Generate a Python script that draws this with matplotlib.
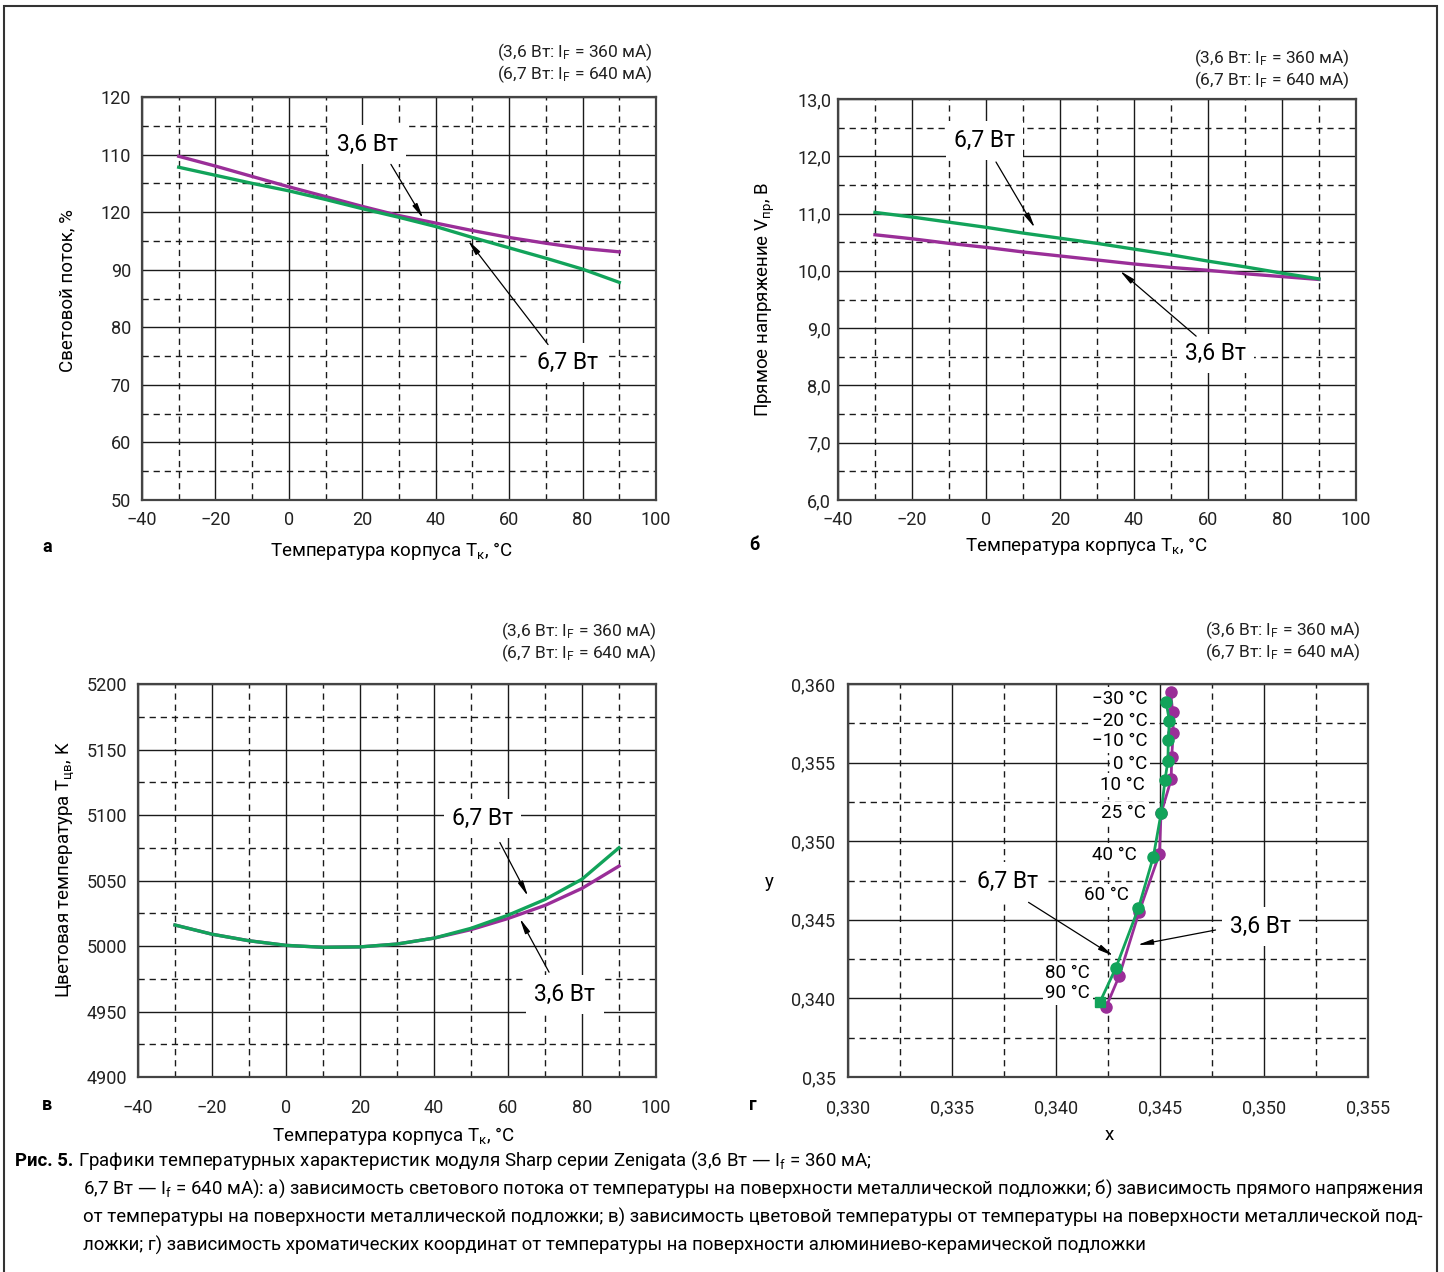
import matplotlib
matplotlib.use('Agg')
import matplotlib.pyplot as plt
from matplotlib.patches import Rectangle

plt.rcParams['font.family'] = ['Roboto', 'DejaVu Sans']
plt.rcParams['axes.unicode_minus'] = True

W, H = 1444, 1272
PURPLE = '#9a2e98'
GREEN = '#12a35a'

# ---- data ----
temp = [-30, -20, -10, 0, 10, 20, 30, 40, 50, 60, 70, 80, 90]

# a) luminous flux, %
flux_36 = [109.7, 108.0, 106.2, 104.4, 102.7, 101.0, 99.4, 98.1, 96.8, 95.6, 94.6, 93.7, 93.1]
flux_67 = [107.8, 106.4, 105.0, 103.7, 102.2, 100.6, 99.1, 97.5, 95.6, 93.8, 92.0, 90.1, 87.8]

# b) forward voltage, V
volt_36 = [10.63, 10.56, 10.48, 10.41, 10.33, 10.26, 10.19, 10.12, 10.06, 10.01, 9.95, 9.90, 9.85]
volt_67 = [11.02, 10.94, 10.85, 10.76, 10.66, 10.57, 10.48, 10.38, 10.28, 10.17, 10.07, 9.96, 9.86]

# c) colour temperature, K
cct_36 = [5016, 5009, 5004, 5000.5, 4999, 4999.3, 5001.5, 5006, 5012.5, 5021, 5031, 5044, 5061]
cct_67 = [5016, 5009, 5004, 5000.5, 4999, 4999.3, 5001.5, 5006, 5013.5, 5023.5, 5035.5, 5051, 5075]

# d) chromaticity coordinates
chroma_temps = ['−30 °C', '−20 °C', '−10 °C', '0 °C', '10 °C', '25 °C', '40 °C', '60 °C', '80 °C', '90 °C']
cx_36 = [0.34551, 0.34561, 0.34564, 0.34556, 0.34554, 0.34505, 0.34497, 0.34400, 0.34304, 0.34240]
cy_36 = [0.35951, 0.35820, 0.35690, 0.35534, 0.35394, 0.35177, 0.34919, 0.34552, 0.34143, 0.33943]
cx_67 = [0.34529, 0.34545, 0.34540, 0.34538, 0.34524, 0.34505, 0.34468, 0.34396, 0.34288, 0.34212]
cy_67 = [0.35887, 0.35767, 0.35644, 0.35512, 0.35389, 0.35177, 0.34901, 0.34573, 0.34195, 0.33979]

temp_ticks = [-40, -20, 0, 20, 40, 60, 80, 100]
temp_labels = ['−40', '−20', '0', '20', '40', '60', '80', '100']
flux_ticks = [50, 60, 70, 80, 90, 100, 110, 120]
flux_labels = ['50', '60', '70', '80', '90', '120', '110', '120']
volt_ticks = [6, 7, 8, 9, 10, 11, 12, 13]
volt_labels = ['6,0', '7,0', '8,0', '9,0', '10,0', '11,0', '12,0', '13,0']
cct_ticks = [4900, 4950, 5000, 5050, 5100, 5150, 5200]
cct_labels = ['4900', '4950', '5000', '5050', '5100', '5150', '5200']
cx_ticks = [0.330, 0.335, 0.340, 0.345, 0.350, 0.355]
cx_labels = ['0,330', '0,335', '0,340', '0,345', '0,350', '0,355']
cy_ticks = [0.335, 0.340, 0.345, 0.350, 0.355, 0.360]
cy_labels = ['0,35', '0,340', '0,345', '0,350', '0,355', '0,360']

fig = plt.figure(figsize=(W / 100, H / 100), dpi=100)

# frame round the whole figure
fig.add_artist(Rectangle((4 / W, 1 - 1290 / H), 1433 / W, 1284 / H, fill=False,
                         ec='#333333', lw=1.5, transform=fig.transFigure))


def make_axes(l, t, r, b):
    return fig.add_axes([l / W, 1 - b / H, (r - l) / W, (b - t) / H])


def setup(ax, xt, xl, yt, yl, xpad, ypad):
    ax.set_xlim(xt[0], xt[-1])
    ax.set_ylim(yt[0], yt[-1])
    ax.set_xticks(xt)
    ax.set_xticklabels(xl)
    ax.set_yticks(yt)
    ax.set_yticklabels(yl)
    ax.set_xticks([(a + b) / 2 for a, b in zip(xt[:-1], xt[1:])], minor=True)
    ax.set_yticks([(a + b) / 2 for a, b in zip(yt[:-1], yt[1:])], minor=True)
    ax.tick_params(which='both', length=0, labelsize=13, colors='#222222')
    ax.tick_params(axis='x', pad=xpad)
    ax.tick_params(axis='y', pad=ypad)
    ax.grid(which='major', color='#1a1a1a', lw=1.0, ls='-')
    ax.grid(which='minor', color='#1a1a1a', lw=1.0, ls=(0, (4.5, 3.5)))
    ax.set_axisbelow(True)
    for s in ax.spines.values():
        s.set_color('#444444')
        s.set_linewidth(1.6)


def tag(ax, x, y, s, size=16.5):
    ax.text(x, y, s, fontsize=size, ha='center', va='center', zorder=4,
            bbox=dict(boxstyle='square,pad=0.35', fc='white', ec='none'))


def arrow(ax, tail, tip):
    ax.annotate('', xy=tip, xytext=tail, zorder=5,
                arrowprops=dict(arrowstyle='-|>,head_length=0.9,head_width=0.16',
                                color='black', lw=0.9, shrinkA=0, shrinkB=0))


def note(x, y):
    fig.text(x / W, 1 - y / H, '(3,6 Вт: I$\\mathregular{_F}$ = 360 мА)\n(6,7 Вт: I$\\mathregular{_F}$ = 640 мА)',
             fontsize=12.5, ha='right', va='center', linespacing=1.05, color='#222222')


def letter(x, y, s):
    fig.text(x / W, 1 - y / H, s, fontsize=13, fontweight='bold', ha='center', va='center')


temp_label = 'Температура корпуса T$\\mathregular{_к}$, °C'

# ---- а ----
ax = make_axes(142, 97, 656, 500)
setup(ax, temp_ticks, temp_labels, flux_ticks, flux_labels, 8, 8)
ax.plot(temp, flux_36, color=PURPLE, lw=2.4, zorder=3)
ax.plot(temp, flux_67, color=GREEN, lw=2.4, zorder=3)
tag(ax, 21.3, 111.7, '3,6 Вт')
arrow(ax, (27.8, 108.3), (36.6, 98.9))
tag(ax, 75.8, 73.9, '6,7 Вт')
arrow(ax, (70.6, 77.0), (48.8, 95.1))
ax.set_ylabel('Световой поток, %', fontsize=13.5)
ax.yaxis.set_label_coords(-0.128, 0.52)
ax.set_xlabel(temp_label, fontsize=13.5)
ax.xaxis.set_label_coords(0.486, -0.099)
note(653, 63)
letter(47, 547, 'а')

# ---- б ----
ax = make_axes(838, 99, 1356, 500)
setup(ax, temp_ticks, temp_labels, volt_ticks, volt_labels, 8, 5)
ax.plot(temp, volt_36, color=PURPLE, lw=2.4, zorder=3)
ax.plot(temp, volt_67, color=GREEN, lw=2.4, zorder=3)
tag(ax, -0.3, 12.27, '6,7 Вт')
arrow(ax, (2.7, 11.90), (13.2, 10.75))
tag(ax, 61.9, 8.55, '3,6 Вт')
arrow(ax, (56.8, 8.86), (36.2, 10.0))
ax.set_ylabel('Прямое напряжение V$\\mathregular{_{пр}}$, В', fontsize=13.5)
ax.yaxis.set_label_coords(-0.118, 0.5)
ax.set_xlabel(temp_label, fontsize=13.5)
ax.xaxis.set_label_coords(0.479, -0.087)
note(1350, 69)
letter(754, 545, 'б')

# ---- в ----
ax = make_axes(138, 684, 656, 1077)
setup(ax, temp_ticks, temp_labels, cct_ticks, cct_labels, 16, 8)
ax.plot(temp, cct_36, color=PURPLE, lw=2.4, zorder=3)
ax.plot(temp, cct_67, color=GREEN, lw=2.4, zorder=3)
tag(ax, 53.2, 5097, '6,7 Вт')
arrow(ax, (57.8, 5079), (65.4, 5038))
tag(ax, 75.4, 4963, '3,6 Вт')
arrow(ax, (71.1, 4980), (63.2, 5021))
ax.set_ylabel('Цветовая температура T$\\mathregular{_{цв}}$, K', fontsize=13.5)
ax.yaxis.set_label_coords(-0.120, 0.527)
ax.set_xlabel(temp_label, fontsize=13.5)
ax.xaxis.set_label_coords(0.494, -0.122)
note(657, 642)
letter(47, 1105, 'в')

# ---- г ----
ax = make_axes(848, 684, 1368, 1077)
setup(ax, cx_ticks, cx_labels, cy_ticks, cy_labels, 16, 9)
ax.plot(cx_36, cy_36, color=PURPLE, lw=2.0, marker='o', ms=8, zorder=3)
ax.plot(cx_67[:-1], cy_67[:-1], color=GREEN, lw=2.0, marker='o', ms=8, zorder=3)
ax.plot(cx_67[-2:], cy_67[-2:], color=GREEN, lw=2.0, zorder=3)
ax.plot(cx_67[-1], cy_67[-1], color=GREEN, marker='s', ms=7, zorder=3)
label_offsets = [(-19, 3), (-22, 0), (-21, -1), (-21, -3), (-20, -5),
                 (-15, 0), (-17, 2), (-9, 13), (-26, -5), (-10, 9)]
for s, x, y, (dx, dy) in zip(chroma_temps, cx_67, cy_67, label_offsets):
    ax.annotate(s, (x, y), xytext=(dx, dy), textcoords='offset pixels', fontsize=13.5,
                ha='right', va='center', zorder=4,
                bbox=dict(boxstyle='square,pad=0.15', fc='white', ec='none'))
tag(ax, 0.33768, 0.34743, '6,7 Вт')
arrow(ax, (0.33868, 0.34611), (0.34276, 0.34270))
tag(ax, 0.34984, 0.34457, '3,6 Вт')
arrow(ax, (0.34767, 0.34435), (0.34392, 0.34340))
ax.set_ylabel('y', fontsize=13.5, rotation=0, va='center', ha='center')
ax.yaxis.set_label_coords(-0.152, 0.496)
ax.set_xlabel('x', fontsize=13.5)
ax.xaxis.set_label_coords(0.502, -0.125)
note(1361, 641)
letter(753, 1105, 'г')

# ---- caption ----
cap = 13.4
bold = fig.text(15 / W, 1 - 1161 / H, 'Рис. 5.', fontsize=cap, fontweight='bold', va='center')
renderer = fig.canvas.get_renderer()
bold_end = bold.get_window_extent(renderer).x1
fig.text((bold_end + 5) / W, 1 - 1161 / H,
         'Графики температурных характеристик модуля Sharp серии Zenigata (3,6 Вт — I$\\mathregular{_f}$ = 360 мА;',
         fontsize=cap, va='center')
caption_lines = [
    '6,7 Вт — I$\\mathregular{_f}$ = 640 мА): а) зависимость светового потока от температуры на поверхности металлической подложки; б) зависимость прямого напряжения',
    'от температуры на поверхности металлической подложки; в) зависимость цветовой температуры от температуры на поверхности металлической под-',
    'ложки; г) зависимость хроматических координат от температуры на поверхности алюминиево-керамической подложки',
]
for i, line in enumerate(caption_lines):
    fig.text(83 / W, 1 - (1189 + 28 * i) / H, line, fontsize=cap, va='center')

fig.savefig('out.png', dpi=100)
